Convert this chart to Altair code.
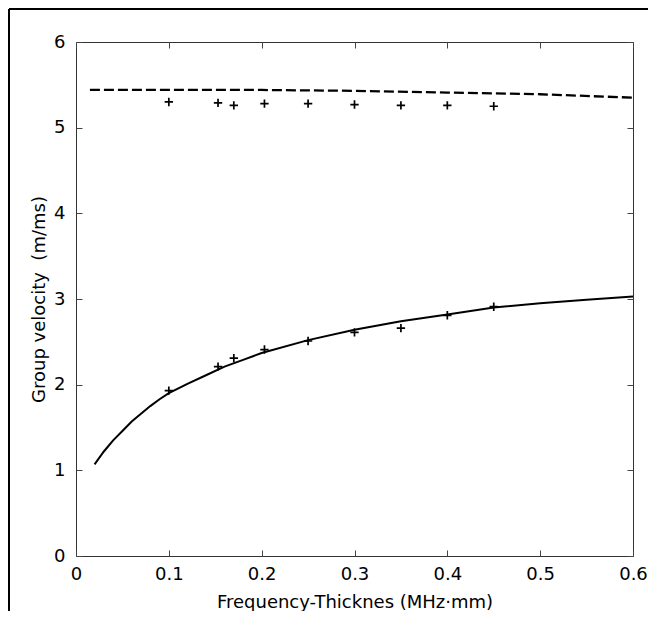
import altair as alt
import pandas as pd

# ---- data ----
curve_x = [0.02, 0.03, 0.04, 0.05, 0.06, 0.07, 0.08, 0.09, 0.10, 0.12, 0.14, 0.16,
           0.18, 0.20, 0.25, 0.30, 0.35, 0.40, 0.45, 0.50, 0.55, 0.60]
curve_y = [1.07, 1.22, 1.35, 1.46, 1.57, 1.66, 1.75, 1.83, 1.90, 2.01, 2.11, 2.21,
           2.29, 2.37, 2.52, 2.64, 2.74, 2.82, 2.90, 2.95, 2.99, 3.03]

dash_x = [0.015, 0.1, 0.2, 0.3, 0.4, 0.5, 0.6]
dash_y = [5.44, 5.44, 5.44, 5.43, 5.41, 5.39, 5.35]

meas_x = [0.10, 0.153, 0.17, 0.203, 0.25, 0.30, 0.35, 0.40, 0.45]
upper_y = [5.30, 5.29, 5.26, 5.28, 5.28, 5.27, 5.26, 5.26, 5.25]
lower_y = [1.93, 2.21, 2.31, 2.41, 2.51, 2.61, 2.66, 2.81, 2.91]

x_ticks = [0, 0.1, 0.2, 0.3, 0.4, 0.5, 0.6]
y_ticks = [0, 1, 2, 3, 4, 5, 6]
x_title = "Frequency-Thicknes (MHz·mm)"
y_title = "Group velocity\u00a0 (m/ms)"

W, H = 557, 514
FONT = "DejaVu Sans"

curve_df = pd.DataFrame({"f": curve_x, "v": curve_y})
dash_df = pd.DataFrame({"f": dash_x, "v": dash_y})
meas_df = pd.DataFrame({"f": meas_x + meas_x, "v": upper_y + lower_y})


def xs():
    return alt.Scale(domain=[0, 0.6], nice=False, zero=False)


def ys():
    return alt.Scale(domain=[0, 6], nice=False, zero=False)


# axis carrying labels and titles (no ticks)
x_lab = alt.Axis(orient="bottom", values=x_ticks, ticks=False, domain=False, grid=False,
                 labelFlush=False, labelPadding=9, format="~g", title=x_title,
                 titlePadding=10)
y_lab = alt.Axis(orient="left", values=y_ticks, ticks=False, domain=False, grid=False,
                 labelPadding=11, format="~g", title=y_title, titlePadding=5)

# inward ticks on bottom / left edges
x_in_bottom = alt.Axis(orient="top", offset=-H, values=x_ticks, labels=False, ticks=True,
                       tickSize=6, domain=False, grid=False, title="")
y_in_left = alt.Axis(orient="right", offset=-W, values=y_ticks, labels=False, ticks=True,
                     tickSize=6, domain=False, grid=False, title="")
# inward ticks on top / right edges
x_in_top = alt.Axis(orient="bottom", offset=-H, values=x_ticks, labels=False, ticks=True,
                    tickSize=6, domain=False, grid=False, title="")
y_in_right = alt.Axis(orient="left", offset=-W, values=y_ticks, labels=False, ticks=True,
                      tickSize=6, domain=False, grid=False, title="")

solid = alt.Chart(curve_df).mark_line(color="black", strokeWidth=2).encode(
    x=alt.X("f:Q", scale=xs(), axis=x_lab),
    y=alt.Y("v:Q", scale=ys(), axis=y_lab),
)

dashed = alt.Chart(dash_df).mark_line(color="black", strokeWidth=2.3, strokeDash=[10, 4]).encode(
    x=alt.X("f:Q", scale=xs(), axis=x_in_bottom),
    y=alt.Y("v:Q", scale=ys(), axis=y_in_left),
)

marks = alt.Chart(meas_df).mark_point(
    shape="M-1,0L1,0M0,-1L0,1", size=70, filled=False, color="black", strokeWidth=1.7,
    opacity=1
).encode(
    x=alt.X("f:Q", scale=xs(), axis=x_in_top),
    y=alt.Y("v:Q", scale=ys(), axis=y_in_right),
)

one = pd.DataFrame({"a": [0]})
border_left = alt.Chart(one).mark_rule(color="black", strokeWidth=2).encode(
    x=alt.value(-67), x2=alt.value(-67), y=alt.value(-33), y2=alt.value(600)
)
border_top = alt.Chart(one).mark_rule(color="black", strokeWidth=2).encode(
    x=alt.value(-67), x2=alt.value(600), y=alt.value(-33), y2=alt.value(-33)
)

chart = alt.layer(solid, dashed, marks, border_left, border_top).resolve_scale(
    x="independent", y="independent"
).resolve_axis(
    x="independent", y="independent"
).properties(
    width=W, height=H,
    autosize=alt.AutoSizeParams(type="none"),
    padding={"left": 68, "top": 34, "right": 15, "bottom": 55},
    background="white",
).configure_view(
    stroke="#333333", strokeWidth=1
).configure_axis(
    labelFont=FONT, labelFontSize=18, labelColor="black",
    titleFont=FONT, titleFontSize=18, titleColor="black", titleFontWeight="normal",
    tickColor="#444444", tickWidth=1,
)

chart.save("out.html", embed_options={"renderer": "svg", "actions": False})
